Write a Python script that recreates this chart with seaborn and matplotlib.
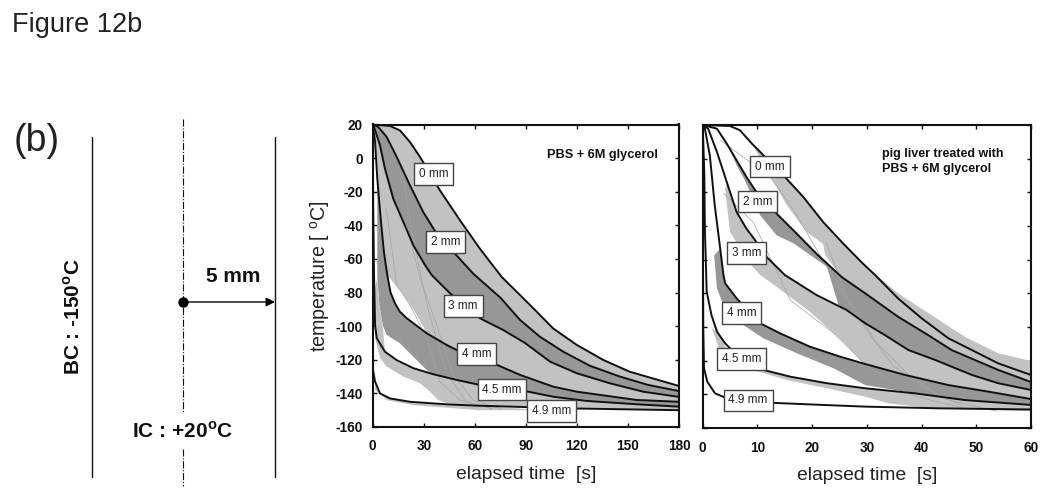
import pandas as pd
import matplotlib
matplotlib.use("Agg")
import matplotlib.pyplot as plt
import seaborn as sb

# curves, (elapsed time [s], temperature [C])
depths = ["0 mm", "2 mm", "3 mm", "4 mm", "4.5 mm", "4.9 mm"]

pbs_t = {
    "0 mm": [0, 10.2, 16, 21.9, 27.8, 39.5, 51.3, 63, 75.8, 86.6, 96.4, 106, 120, 135.5, 151, 180],
    "2 mm": [0, 3.3, 8.2, 14.1, 21.9, 29.7, 37.6, 48.4, 59.1, 75, 86.6, 98.3, 112, 127.7, 145.3, 162, 180],
    "3 mm": [0, 0.8, 4.3, 7.2, 12.1, 18, 23.9, 30.7, 34.7, 45.4, 63, 76.7, 89.5, 104.2, 119.9, 139.4, 159, 180],
    "4 mm": [0, 1.4, 2.7, 4.7, 6.6, 8.6, 10.5, 13.1, 16, 20, 31.7, 43.5, 51.3, 70.9, 86.6, 106.1, 120, 155, 180],
    "4.5 mm": [0, 0.3, 0.8, 1.4, 2.4, 7.2, 14.1, 23.9, 35.6, 49.4, 63, 86.6, 106.1, 125.8, 157, 180],
    "4.9 mm": [0, 0, 1.4, 4.3, 10.2, 21.9, 43.5, 61, 120, 180],
}
pbs_T = {
    "0 mm": [20, 19.1, 16.5, 9.6, 0.7, -19.2, -37, -53.9, -70.7, -81.5, -91.4, -101.3, -111.2, -120.1, -127.1, -135.6],
    "2 mm": [20, 18.5, 12.6, 0.7, -16.2, -32.1, -45, -56.9, -68.8, -83, -96.3, -106.3, -115.2, -123.6, -130, -135, -138.6],
    "3 mm": [20, 18.5, 7.6, -6.3, -24.2, -38, -51.9, -63.6, -69.6, -80.4, -95.3, -102.3, -110, -121.1, -128, -134, -139, -142.1],
    "4 mm": [20, 9.6, -12.3, -36, -55.9, -69.7, -80, -86.4, -91.4, -95.3, -104.2, -111.2, -115.2, -122.1, -129, -136, -139, -143.9, -145],
    "4.5 mm": [20, -30, -70.7, -99.3, -107.2, -115.2, -120.2, -125, -128.6, -132, -135, -138, -142, -144.5, -146.6, -147.9],
    "4.9 mm": [-94, -125, -133, -140, -143, -145, -146.5, -147.3, -149, -150],
}
liver_t = {
    "0 mm": [0, 5, 6.8, 9, 10.5, 15.6, 18.4, 22, 25.7, 29.3, 31.5, 35.7, 40, 44.9, 49.2, 54, 60],
    "2 mm": [0, 2.6, 4.4, 6.2, 8, 9.6, 13.8, 17.2, 20.8, 25.4, 29.7, 35.7, 41.2, 45.5, 54, 60],
    "3 mm": [0, 1, 2.6, 4.4, 6.2, 8, 9.6, 11.1, 15, 20.8, 26.3, 29.7, 33.3, 37.6, 42.5, 49.2, 54, 60],
    "4 mm": [0, 0.4, 1.3, 2.2, 3.2, 3.8, 4.1, 6.2, 10.5, 14.1, 19.6, 25.1, 29.7, 37, 44.9, 52.2, 60],
    "4.5 mm": [0, 0.3, 0.4, 0.73, 1.6, 2.6, 4.1, 5, 11.1, 16, 22.7, 29.7, 38.8, 47.9, 60],
    "4.9 mm": [0, 0.1, 0.24, 0.84, 2.25, 4.4, 12.3, 22, 29.7, 43, 60],
}
liver_T = {
    "0 mm": [20, 19.4, 16.9, 8.9, 4, -12.9, -22.8, -37.6, -50.5, -62.4, -69.1, -83, -94.8, -106.7, -113.7, -121.6, -128.5],
    "2 mm": [20, 17.8, 8.9, -1, -10.9, -18.8, -33.6, -44.6, -56.5, -70.3, -80, -93.9, -104.8, -113.7, -125.5, -132.7],
    "3 mm": [20, 17.8, 4, -13.9, -31.7, -41.6, -48.5, -56.5, -69.1, -81, -89.9, -97.8, -104.8, -113.7, -119.6, -128.5, -133.4, -137.4],
    "4 mm": [20, 17.8, 2, -27.7, -53.5, -69.3, -74, -83, -97.8, -103.7, -111.7, -117.6, -122, -128.5, -134.5, -138.4, -142.8],
    "4.5 mm": [20, -10, -42, -79, -92.9, -102.8, -109.7, -112.7, -125.5, -129.5, -133.4, -136.4, -139.4, -143.4, -146.3],
    "4.9 mm": [-20, -100, -124.5, -132.5, -139.4, -142.4, -145, -146.3, -147.3, -148.3, -149],
}

# measured bands: (top edge t, T, bottom edge t, T, shade)
pbs_bands = [
    (pbs_t["0 mm"], pbs_T["0 mm"], pbs_t["2 mm"], pbs_T["2 mm"], "light"),
    (pbs_t["2 mm"], pbs_T["2 mm"], pbs_t["3 mm"], pbs_T["3 mm"], "dark"),
    (pbs_t["3 mm"], pbs_T["3 mm"],
     pbs_t["4 mm"][:6] + [15, 20.9, 25.9, 29.7] + pbs_t["4 mm"][10:],
     pbs_T["4 mm"][:6] + [-77.5, -85.4, -93.3, -100.3] + pbs_T["4 mm"][10:], "light"),
    (pbs_t["4 mm"][2:], pbs_T["4 mm"][2:],
     [2.7, 3.9, 5.9, 8.2, 16, 23.9, 31.7] + pbs_t["4.5 mm"][8:],
     [-71, -87.4, -99.3, -105.2, -110.2, -118.2, -126.1] + pbs_T["4.5 mm"][8:], "dark"),
    ([0.8, 2.7, 3.9, 5.9] + pbs_t["4.5 mm"][5:],
     [-80, -71, -87.4, -99.3] + pbs_T["4.5 mm"][5:],
     [0.8, 1.4, 4.3, 8.2, 18, 27.8, 32.7, 38.5, 43.5] + pbs_t["4.9 mm"][7:],
     [-80, -107, -119, -124, -130, -134, -138, -144, -145.8] + pbs_T["4.9 mm"][7:], "light"),
    (pbs_t["4.9 mm"][2:8], pbs_T["4.9 mm"][2:8],
     [1.4, 8.2, 23.9, 63, 100], [-138, -144, -147, -150, -150], "light"),
]
liver_bands = [
    ([9, 10.5, 15.6, 18.4, 22, 25.7, 29.3, 35.7, 41.8, 47.9, 54, 60],
     [8.9, 4, -12.9, -22.8, -37.6, -50.5, -62.4, -80, -92.9, -105.8, -115.6, -120.2],
     [9, 12.6, 15.4, 19, 22, 22.4, 24.2] + liver_t["2 mm"][9:],
     [8.9, -11.9, -27.7, -43.6, -50.6, -57.4, -65.4] + liver_T["2 mm"][9:], "light"),
    (liver_t["2 mm"][2:], liver_T["2 mm"][2:],
     [4.4, 6.2, 7.7, 9.6, 10.5, 13.5, 16.6, 22.7, 25.1] + liver_t["3 mm"][10:],
     [8.9, -3.9, -12.8, -26.7, -33.6, -45.5, -50.3, -64.2, -89.9] + liver_T["3 mm"][10:], "dark"),
    (liver_t["3 mm"][3:], liver_T["3 mm"][3:],
     [4.4, 4.1, 5, 8.6, 10.5, 14.7, 19.6, 25.7, 29.3] + liver_t["4 mm"][13:],
     [-13.9, -17.8, -43.6, -62.4, -69, -79, -90.9, -108.7, -121.4] + liver_T["4 mm"][13:], "light"),
    (liver_t["4 mm"][4:], liver_T["4 mm"][4:],
     [3.2, 2.1, 2.6, 3.8, 7.4, 11.1, 17.2, 23.9, 29.7] + liver_t["4.5 mm"][12:],
     [-53.5, -57.4, -77, -87, -98.8, -106.7, -115.6, -124.5, -134.5] + liver_T["4.5 mm"][12:], "dark"),
    (liver_t["4.5 mm"][8:], liver_T["4.5 mm"][8:],
     [11.1, 9.2, 15.4, 22.7, 29.7, 33.9, 41.8, 60],
     [-125.5, -125.5, -131.5, -136.4, -141.4, -145.3, -148.3, -150], "light"),
    (liver_t["4.5 mm"][4:8], liver_T["4.5 mm"][4:8],
     [5, 3, 1.6], [-118, -113, -100], "light"),
]

# faint single-run traces
pbs_traces = [
    ([17, 21.9, 27.8, 33, 43.5, 55.2, 70], [-4.3, -38, -67.8, -92, -128, -145, -149]),
    ([20, 27.8, 37.6, 47.4, 59.1, 75], [-40, -71.5, -99.3, -129, -144, -149]),
    ([8, 14.1, 21.9, 31.7, 39.5, 51.3, 70], [-30, -75.5, -87.4, -107, -133, -144, -149]),
]
liver_traces = [
    ([3.2, 12.3, 16.6, 22.6, 28.1, 34.8, 44.5, 53.7], [11, -10.7, -30.4, -64, -93.7, -123, -143, -150]),
    ([3.8, 9.3, 16, 23.9, 30, 38.5, 47.6], [-20.5, -38, -84, -103.6, -123, -141, -148]),
    ([22.6, 26.3, 31.8, 39.7, 47.6], [-50, -82, -109.5, -135, -147]),
]

pbs_label_t = [36, 42.9, 53.2, 61, 76, 105]
pbs_label_T = [-9.4, -50, -88, -116.5, -137.7, -150.6]
liver_label_t = [12.3, 10, 8, 7.1, 7.1, 8.3]
liver_label_T = [-4.7, -25.5, -56, -91.7, -119, -143.6]

temp_ticks = list(range(-160, 21, 20))
pbs_ticks = list(range(0, 181, 30))
liver_ticks = list(range(0, 61, 10))

shades = {"light": "#c2c2c2", "dark": "#979797"}
ink = "#111111"

sb.set_theme(style="ticks")
plt.rcParams["font.family"] = ["Liberation Sans", "DejaVu Sans"]
plt.rcParams["axes.unicode_minus"] = False
plt.rcParams["mathtext.fontset"] = "custom"
plt.rcParams["mathtext.rm"] = "Liberation Sans"
plt.rcParams["mathtext.bf"] = "Liberation Sans:bold"
W, H = 1050, 504


def panel(box, curves_t, curves_T, bands, traces, lab_t, lab_T, xticks, show_y):
    left, top, right, bottom = box
    ax = fig.add_axes([left / W, 1 - bottom / H, (right - left) / W, (bottom - top) / H])
    for xa, ya, xb, yb, shade in bands:
        ax.fill(list(xa) + list(xb)[::-1], list(ya) + list(yb)[::-1],
                color=shades[shade], lw=0, zorder=1)
    for xs, ys in traces:
        sb.lineplot(x=xs, y=ys, color="#a4a4a4", lw=0.5, sort=False, estimator=None, ax=ax, zorder=2)
    for d in depths:
        df = pd.DataFrame({"t": curves_t[d], "T": curves_T[d]})
        sb.lineplot(data=df, x="t", y="T", color=ink, lw=1.4, sort=False,
                    estimator=None, ax=ax, zorder=3)
    for d, tx, ty in zip(depths, lab_t, lab_T):
        ax.text(tx, ty, d, ha="center", va="center", fontsize=8.5, color="#222222", zorder=5,
                bbox=dict(boxstyle="square,pad=0.4", fc="white", ec="#444444", lw=1))
    ax.set_xlim(xticks[0], xticks[-1])
    ax.set_ylim(-160, 20)
    ax.set_xticks(xticks)
    ax.set_yticks(temp_ticks)
    ax.tick_params(direction="in", length=3, width=1, top=True, right=True, labelsize=9.8,
                   colors=ink, labelleft=show_y)
    ax.tick_params(axis="x", pad=9)
    ax.tick_params(axis="y", pad=7)
    for lab in ax.get_xticklabels() + ax.get_yticklabels():
        lab.set_fontweight("bold")
    for s in ax.spines.values():
        s.set_linewidth(1.5)
        s.set_color(ink)
    ax.set_xlabel("elapsed time  [s]", fontsize=13.9, color="#222222", labelpad=9)
    ax.set_ylabel(r"temperature [ $^{\mathrm{o}}$C]" if show_y else "", fontsize=14.2, color="#222222", labelpad=3)
    return ax


fig = plt.figure(figsize=(W / 100, H / 100), dpi=100)

ax1 = panel((372.7, 124.5, 679, 427), pbs_t, pbs_T, pbs_bands, pbs_traces,
            pbs_label_t, pbs_label_T, pbs_ticks, True)
ax1.text(135, 2, "PBS + 6M glycerol", ha="center", va="center", fontsize=9.2, fontweight="bold", color=ink)

ax2 = panel((702.7, 125, 1031, 428), liver_t, liver_T, liver_bands, liver_traces,
            liver_label_t, liver_label_T, liver_ticks, False)
ax2.text(32.7, -1.7, "pig liver treated with\nPBS + 6M glycerol", ha="left", va="center",
         fontsize=9, fontweight="bold", color=ink, linespacing=1.38)

# schematic on the left, in pixel coordinates
sk = fig.add_axes([0, 0, 1, 1], zorder=-1)
sk.set_xlim(0, W)
sk.set_ylim(H, 0)
sk.axis("off")
sk.plot([92, 92], [137, 477], color=ink, lw=1)
sk.plot([275, 275], [137, 477], color=ink, lw=1)
sk.plot([183, 183], [119, 413], color=ink, lw=0.8, ls="-.")
sk.plot([183, 183], [449, 486], color=ink, lw=0.8, ls="-.")
sk.plot([183], [302], "o", color="black", ms=6.5)
sk.annotate("", xy=(275, 302), xytext=(183, 302),
            arrowprops=dict(arrowstyle="-|>", color="black", lw=1, shrinkA=0, shrinkB=0, mutation_scale=13))
sk.text(12, 25, "Figure 12b", fontsize=19.5, va="center", ha="left", color="#222222")
sk.text(14, 141, "(b)", fontsize=27, va="center", ha="left", color="#222222")
sk.text(233, 277, "5 mm", fontsize=15, fontweight="bold", ha="center", va="center", color=ink)
sk.text(73, 317, r"BC : -150$^{\mathbf{o}}$C", fontsize=15, fontweight="bold", rotation=90, ha="center", va="center", color=ink)
sk.text(183, 431, r"IC : +20$^{\mathbf{o}}$C", fontsize=15, fontweight="bold", ha="center", va="center", color=ink)

fig.savefig("out.png", dpi=100)
